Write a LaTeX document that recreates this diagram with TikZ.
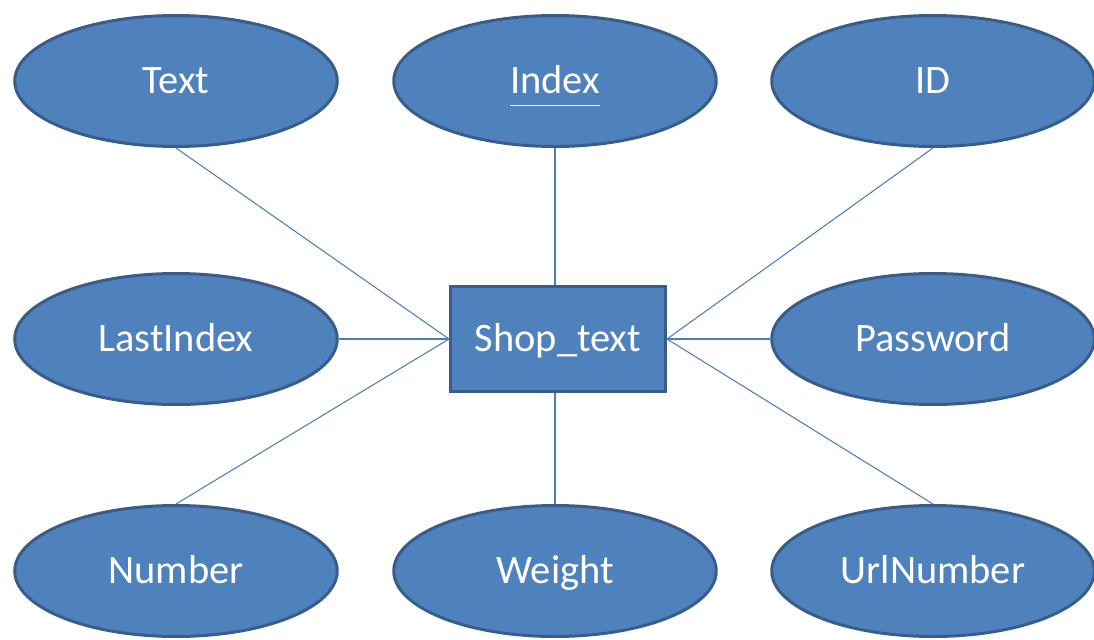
\documentclass[tikz,border=0pt]{standalone}
\usepackage{fontspec}
\setmainfont{Carlito}
\usetikzlibrary{shapes.geometric, positioning}
\definecolor{boxfill}{HTML}{4F81BD}
\definecolor{boxline}{HTML}{385D8A}
\definecolor{linkline}{HTML}{4A7EBB}

\begin{document}
\begin{tikzpicture}[on grid,
  attr/.style={ellipse, draw=boxline, fill=boxfill, line width=1.7pt, text=white,
               minimum width=6.45cm, minimum height=2.62cm, font=\fontsize{23}{27}\selectfont,
               text height=14.7pt, text depth=0pt},
  entity/.style={rectangle, draw=boxline, fill=boxfill, line width=1.7pt, text=white,
                 minimum width=4.3cm, minimum height=2.1cm, font=\fontsize{23}{27}\selectfont,
                 text height=14.7pt, text depth=0pt},
  link/.style={draw=linkline, line width=0.6pt}]
\useasboundingbox (-11.16,-6.0) rectangle (10.72,6.78);
% Nodes
\node[entity] (shop) at (0,0) {Shop\_text};
\node[attr] (text) [above left=5.16cm and 7.64cm of shop] {Text};
\node[attr] (index) [above=5.16cm of shop, xshift=-0.06cm] {\underline{Index\rule[-0.22em]{0pt}{0.6em}}};
\node[attr] (id) [above right=5.16cm and 7.5cm of shop] {ID};
\node[attr] (lastindex) [left=7.64cm of shop] {LastIndex};
\node[attr] (password) [right=7.5cm of shop] {Password};
\node[attr] (number) [below left=4.64cm and 7.64cm of shop] {Number};
\node[attr] (weight) [below=4.64cm of shop, xshift=-0.06cm] {Weight};
\node[attr] (urlnumber) [below right=4.64cm and 7.5cm of shop] {UrlNumber};
% Lines
\draw[link] (text.south) -- (shop.west);
\draw[link] (index.south) -- (index.south |- shop.north);
\draw[link] (id.south) -- (shop.east);
\draw[link] (lastindex.east) -- (shop.west);
\draw[link] (password.west) -- (shop.east);
\draw[link] (number.north) -- (shop.west);
\draw[link] (weight.north) -- (weight.north |- shop.south);
\draw[link] (urlnumber.north) -- (shop.east);
\end{tikzpicture}
\end{document}
